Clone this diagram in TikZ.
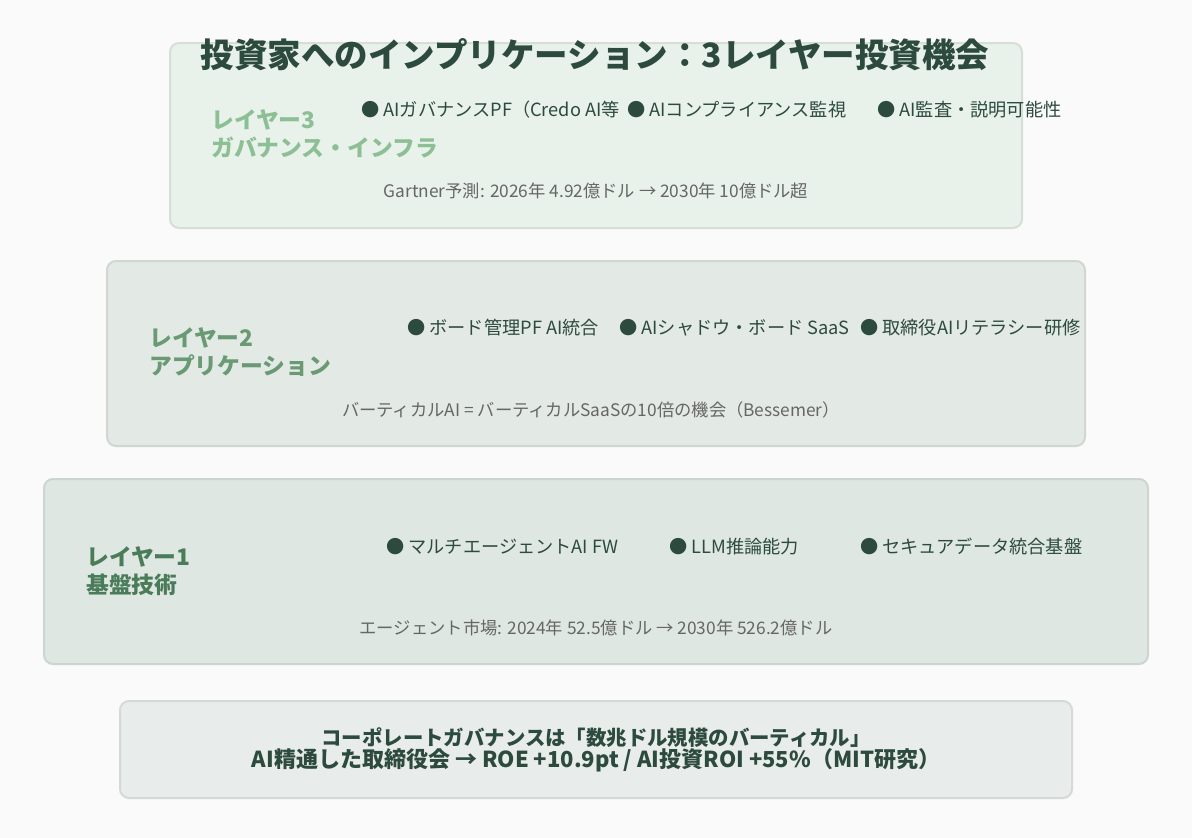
\documentclass[tikz,border=0pt]{standalone}
\usepackage{fontspec}
\setmainfont{Noto Sans CJK JP}
\definecolor{bgcol}{HTML}{FAFAFA}
\definecolor{darkgreen}{HTML}{2D4A3E}
\definecolor{notegray}{HTML}{666666}
\definecolor{fillthree}{HTML}{E8F1EA}
\definecolor{fillsecond}{HTML}{E3E9E5}
\definecolor{fillone}{HTML}{DFE7E2}
\definecolor{fillsum}{HTML}{E8ECEA}
\definecolor{labthree}{HTML}{8DBF95}
\definecolor{labtwo}{HTML}{6A9A73}
\definecolor{labone}{HTML}{4A7C59}
\tikzset{
  layerbox/.style={draw=#1!92!black, line width=2pt, rounded corners=9pt, fill=#1},
  layerlabel/.style={anchor=west, align=left, inner sep=0pt, font=\fontsize{22.8}{28}\selectfont\bfseries, text=#1},
  item/.style={anchor=west, inner sep=0pt, font=\fontsize{18.2}{20}\selectfont, text=darkgreen},
  note/.style={inner sep=0pt, font=\fontsize{17.3}{19}\selectfont, text=notegray}
}
\begin{document}
\begin{tikzpicture}[x=1pt,y=-1pt]
\fill[bgcol] (0,0) rectangle (1192,838);
\useasboundingbox (0,0) rectangle (1192,838);
% layer 3
\draw[layerbox=fillthree] (170,43) rectangle (1022,228);
\node[layerlabel=labthree] (lab3) at (211,134) {レイヤー3\\ガバナンス・インフラ};
\node[item] (it3a) at (361,110) {● AIガバナンスPF（Credo AI等};
\node[item] (it3b) at (627,110) {● AIコンプライアンス監視};
\node[item] (it3c) at (877,110) {● AI監査・説明可能性};
\node[note] (note3) at (596,191) {Gartner予測: 2026年 4.92億ドル → 2030年 10億ドル超};
% layer 2
\draw[layerbox=fillsecond] (107,261) rectangle (1085,446);
\node[layerlabel=labtwo] (lab2) at (149,352) {レイヤー2\\アプリケーション};
\node[item] (it2a) at (407,328) {● ボード管理PF AI統合};
\node[item] (it2b) at (619,328) {● AIシャドウ・ボード SaaS};
\node[item] (it2c) at (860,328) {● 取締役AIリテラシー研修};
\node[note] (note2) at (591,410) {バーティカルAI = バーティカルSaaSの10倍の機会（Bessemer）};
% layer 1
\draw[layerbox=fillone] (44,479) rectangle (1148,664);
\node[layerlabel=labone] (lab1) at (86,571) {レイヤー1\\基盤技術};
\node[item] (it1a) at (386,547) {● マルチエージェントAI FW};
\node[item] (it1b) at (669,547) {● LLM推論能力};
\node[item] (it1c) at (860,547) {● セキュアデータ統合基盤};
\node[note] (note1) at (596,628) {エージェント市場: 2024年 52.5億ドル → 2030年 526.2億ドル};
% summary
\draw[layerbox=fillsum] (120,701) rectangle (1072,798);
\node[inner sep=0pt, align=center, text=darkgreen, font=\bfseries] (summary) at (596,750)
  {\fontsize{20.4}{25}\selectfont コーポレートガバナンスは「数兆ドル規模のバーティカル」\\
   \fontsize{22}{25}\selectfont AI精通した取締役会 → ROE +10.9pt / AI投資ROI +55\%（MIT研究）};
% title
\node[inner sep=0pt, text=darkgreen, font=\fontsize{33.5}{38}\selectfont\bfseries] (title) at (595,55) {投資家へのインプリケーション：3レイヤー投資機会};
\end{tikzpicture}
\end{document}
